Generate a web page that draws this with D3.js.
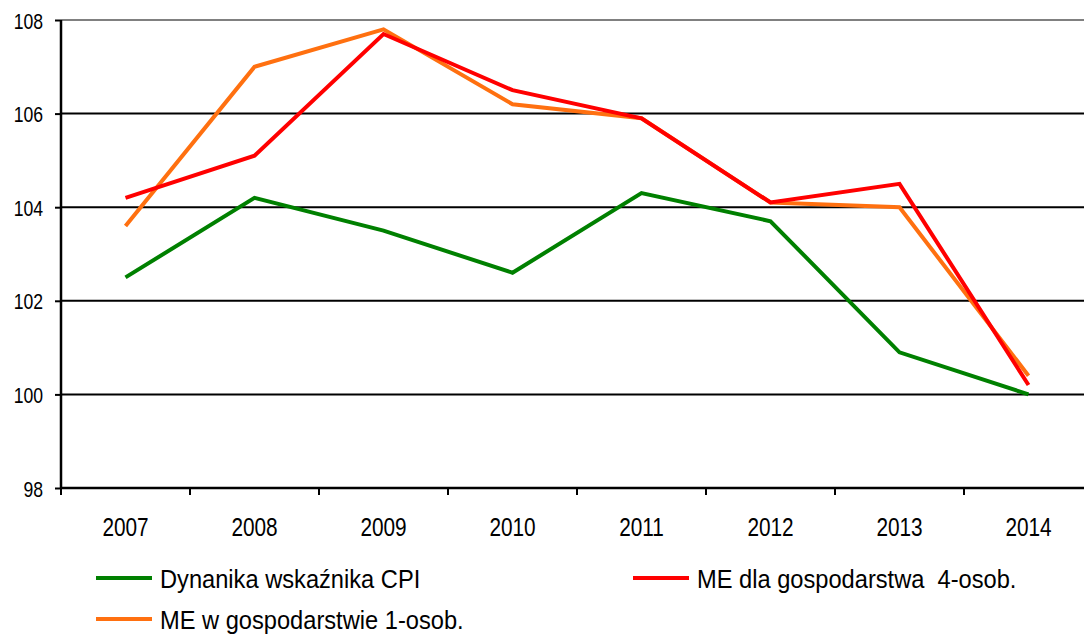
<!DOCTYPE html>
<html><head><meta charset="utf-8">
<script src="https://cdn.jsdelivr.net/npm/d3@7"></script>
<style>body{margin:0;background:#fff}svg{display:block}text{font-family:"Liberation Sans",Arial,sans-serif}</style>
</head><body>
<svg id="c" width="1084" height="635"></svg>
<script>
const years = ["2007","2008","2009","2010","2011","2012","2013","2014"];
const cpi = [102.5,104.2,103.5,102.6,104.3,103.7,100.9,100.0];
const me4 = [104.2,105.1,107.7,106.5,105.9,104.1,104.5,100.2];
const me1 = [103.6,107.0,107.8,106.2,105.9,104.1,104.0,100.4];
const yTicks = [98,100,102,104,106,108];
const seriesNames = ["Dynanika wskaźnika CPI","ME dla gospodarstwa  4-osob.","ME w gospodarstwie 1-osob."];
const colors = ["#008000","#ff0000","#ff7010"];

const svg = d3.select("#c");
const x = d3.scaleBand().domain(years).range([61, 61+8*129]);
const y = d3.scaleLinear().domain([98,108]).range([488,20]);

// gridlines
svg.append("g").selectAll("line").data(yTicks.filter(d=>d>98)).join("line")
  .attr("x1",61).attr("x2",1084).attr("y1",d=>y(d)).attr("y2",d=>y(d))
  .attr("stroke",d=>d===108?"#808080":"#000").attr("stroke-width",2);

// y axis
const ya = svg.append("g").attr("transform","translate(61,0)")
  .call(d3.axisLeft(y).tickValues(yTicks).tickSize(6).tickFormat(d3.format("d")));
ya.select(".domain").attr("stroke","#000").attr("stroke-width",2.5).attr("d","M0,"+y(108)+"V"+y(98));
ya.selectAll(".tick line").attr("stroke","#000").attr("stroke-width",2);
ya.selectAll(".tick text").attr("x",null).attr("dy",null)
  .attr("transform","translate(-18,8) scale(0.8,1)")
  .attr("font-size",22).attr("fill","#000");

// x axis
const xa = svg.append("g").attr("transform","translate(0,488)");
xa.append("line").attr("x1",61).attr("x2",1084).attr("y1",0).attr("y2",0).attr("stroke","#000").attr("stroke-width",2.5);
xa.selectAll("line.t").data(years).join("line").attr("class","t")
  .attr("x1",d=>x(d)).attr("x2",d=>x(d)).attr("y1",0).attr("y2",7).attr("stroke","#000").attr("stroke-width",2);
xa.selectAll("text").data(years).join("text")
  .attr("transform",d=>"translate("+(x(d)+x.bandwidth()/2)+",48) scale(0.8,1)")
  .attr("text-anchor","middle")
  .attr("font-size",26).attr("fill","#000").text(d=>d);

// lines
const line = d3.line().x((d,i)=>x(years[i])+x.bandwidth()/2).y(d=>y(d));
const data = [cpi, me1, me4];
const cols = [colors[0], colors[2], colors[1]];
svg.append("g").selectAll("path").data(data).join("path")
  .attr("d",line).attr("fill","none").attr("stroke",(d,i)=>cols[i]).attr("stroke-width",4)
  .attr("stroke-linejoin","miter");

// legend
const leg = [
  {name:seriesNames[0], c:colors[0], x:96, y:578},
  {name:seriesNames[1], c:colors[1], x:633, y:578},
  {name:seriesNames[2], c:colors[2], x:96, y:619}
];
const lg = svg.append("g").selectAll("g").data(leg).join("g");
lg.append("line").attr("x1",d=>d.x).attr("x2",d=>d.x+56).attr("y1",d=>d.y).attr("y2",d=>d.y)
  .attr("stroke",d=>d.c).attr("stroke-width",4);
lg.append("text")
  .attr("transform",d=>"translate("+(d.x+64)+","+(d.y+10)+") scale(0.91,1)")
  .attr("font-size",26).attr("fill","#000")
  .style("white-space","pre").text(d=>d.name);
</script>
</body></html>
